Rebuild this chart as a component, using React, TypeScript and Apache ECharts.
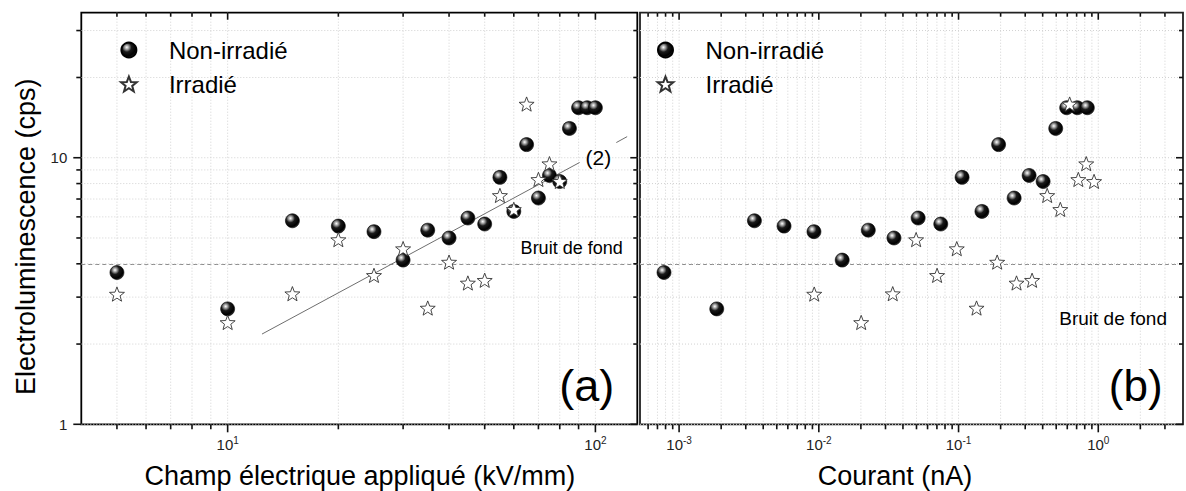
import React, { useEffect, useRef } from "react";
import * as echarts from "echarts";

// ---------- data ----------
// Electroluminescence (cps) of the non-irradiated sample, shared by both panels
const ballEL = [3.71, 2.71, 5.8, 5.54, 5.28, 4.13, 5.35, 5.0, 5.94, 5.64, 8.44, 6.29, 11.2, 7.06, 8.58, 8.14, 12.88, 15.4, 15.4, 15.4];
// applied field (kV/mm), non-irradiated
const ballField = [5, 10, 15, 20, 25, 30, 35, 40, 45, 50, 55, 60, 65, 70, 75, 80, 85, 90, 95, 100];
// current (nA), non-irradiated
const ballCurrent = [0.00078, 0.00186, 0.00346, 0.00564, 0.00923, 0.0147, 0.0226, 0.0345, 0.0514, 0.0746, 0.106, 0.147, 0.1935, 0.25, 0.32, 0.403, 0.496, 0.594, 0.708, 0.835];

// Electroluminescence (cps) of the irradiated sample
const starEL = [3.08, 2.41, 3.09, 4.93, 3.62, 4.56, 2.73, 4.06, 3.39, 3.47, 7.22, 6.4, 15.9, 8.29, 9.5, 8.15];
const starField = [5, 10, 15, 20, 25, 30, 35, 40, 45, 50, 55, 60, 65, 70, 75, 80];
const starCurrent = [0.00927, 0.0201, 0.0338, 0.0497, 0.0702, 0.0971, 0.1345, 0.189, 0.26, 0.336, 0.431, 0.535, 0.624, 0.72, 0.82, 0.933];

// fitted line (2), drawn in two pieces around its label
const fitAX = [12.4, 90.6];
const fitAY = [2.18, 9.6];
const fitBX = [114, 122];
const fitBY = [11.4, 12.0];

const noiseLevel = 4; // "Bruit de fond"

// axis ranges and ticks
const fieldRange = [4, 130];
const currentRange = [0.000525, 4.04];
const elRange = [1, 35];
const fieldMajor = [10, 100];
const fieldMinor = [5, 6, 7, 8, 9, 20, 30, 40, 50, 60, 70, 80, 90];
const currentMajor = [0.001, 0.01, 0.1, 1];
const currentMinor = [
  0.0006, 0.0007, 0.0008, 0.0009,
  0.002, 0.003, 0.004, 0.005, 0.006, 0.007, 0.008, 0.009,
  0.02, 0.03, 0.04, 0.05, 0.06, 0.07, 0.08, 0.09,
  0.2, 0.3, 0.4, 0.5, 0.6, 0.7, 0.8, 0.9,
  2, 3,
];
const elMajor = [1, 10];
const elMinor = [2, 3, 4, 5, 6, 7, 8, 9, 20, 30];

const seriesNames = ["Non-irradié", "Irradié"];

// ---------- styling helpers ----------
const FONT = '"Liberation Sans", Arial, Helvetica, sans-serif';
const TICK = "#111";
const TICK_W = 1.6;

function starPath(): string {
  const pts: string[] = [];
  for (let k = 0; k < 10; k++) {
    const a = -Math.PI / 2 + (k * Math.PI) / 5;
    const r = k % 2 === 0 ? 1 : 0.42;
    pts.push(`${(r * Math.cos(a)).toFixed(4)} ${(r * Math.sin(a)).toFixed(4)}`);
  }
  return "path://M" + pts.join(" L") + " Z";
}
const STAR = starPath();

const ballColor = {
  type: "radial",
  x: 0.36,
  y: 0.32,
  r: 0.7,
  colorStops: [
    { offset: 0, color: "#ffffff" },
    { offset: 0.2, color: "#a0a0a0" },
    { offset: 0.45, color: "#1a1a1a" },
    { offset: 0.85, color: "#000000" },
    { offset: 1, color: "#2a2a2a" },
  ],
};

const zip = (xs: number[], ys: number[]) => xs.map((x, i) => [x, ys[i]]);

function powLabel(v: number): string {
  const l = Math.log10(v);
  const e = Math.round(l);
  if (Math.abs(l - e) > 1e-6) return "";
  return `{b|10}{s|${e}}`;
}
function plainPowLabel(v: number): string {
  const l = Math.log10(v);
  const e = Math.round(l);
  if (Math.abs(l - e) > 1e-6) return "";
  return String(Math.round(v));
}

function logAxis(gridIndex: number, range: number[], label: any) {
  return {
    type: "log",
    logBase: 10,
    gridIndex,
    min: range[0],
    max: range[1],
    axisLine: { show: false, onZero: false },
    axisTick: { show: false },
    splitLine: { show: false },
    minorTick: { show: false },
    axisLabel: label,
  };
}

const xLabel = {
  show: true,
  formatter: powLabel,
  margin: 11,
  rich: {
    b: { fontSize: 15, color: "#222", fontFamily: FONT },
    s: { fontSize: 10, color: "#222", fontFamily: FONT, padding: [0, 0, 9, 0] },
  },
};
const yLabel = { show: true, formatter: plainPowLabel, fontSize: 15, color: "#222", margin: 14, fontFamily: FONT };

// dotted grid lines at every decade and sub-decade value
function xGridSeries(axisIdx: number, values: number[], yRef: number) {
  return {
    type: "custom",
    xAxisIndex: axisIdx,
    yAxisIndex: axisIdx,
    z: 1,
    silent: true,
    encode: { x: 0, y: 1 },
    data: values.map((v) => [v, yRef]),
    renderItem: (params: any, api: any) => {
      const cs = params.coordSys;
      const x = api.coord([api.value(0), api.value(1)])[0];
      return { type: "line", shape: { x1: x, y1: cs.y, x2: x, y2: cs.y + cs.height }, style: { stroke: "#d2d2d2", lineWidth: 1, lineDash: [1, 2] } };
    },
  };
}
function yGridSeries(axisIdx: number, values: number[], xRef: number) {
  return {
    type: "custom",
    xAxisIndex: axisIdx,
    yAxisIndex: axisIdx,
    z: 1,
    silent: true,
    encode: { x: 0, y: 1 },
    data: values.map((v) => [xRef, v]),
    renderItem: (params: any, api: any) => {
      const cs = params.coordSys;
      const y = api.coord([api.value(0), api.value(1)])[1];
      return { type: "line", shape: { x1: cs.x, y1: y, x2: cs.x + cs.width, y2: y }, style: { stroke: "#d2d2d2", lineWidth: 1, lineDash: [1, 2] } };
    },
  };
}

const noiseMarkLine = {
  silent: true,
  z: 1,
  symbol: ["none", "none"],
  label: { show: false },
  lineStyle: { color: "#8c8c8c", type: [4, 3], width: 1 },
  data: [{ yAxis: noiseLevel }],
};

function ballSeries(axisIdx: number, xs: number[]) {
  return {
    type: "scatter",
    name: seriesNames[0],
    xAxisIndex: axisIdx,
    yAxisIndex: axisIdx,
    z: 3,
    symbol: "circle",
    symbolSize: 14,
    itemStyle: { color: ballColor as any, borderColor: "#000", borderWidth: 0.6, opacity: 1 },
    data: zip(xs, ballEL),
    markLine: noiseMarkLine,
  };
}
function starSeries(axisIdx: number, xs: number[]) {
  return {
    type: "scatter",
    name: seriesNames[1],
    xAxisIndex: axisIdx,
    yAxisIndex: axisIdx,
    z: 4,
    symbol: STAR,
    symbolKeepAspect: true,
    symbolSize: 15,
    itemStyle: { color: "#ffffff", borderColor: "#333", borderWidth: 0.9, opacity: 1 },
    data: zip(xs, starEL),
  };
}

function fitSeries(xs: number[], ys: number[]) {
  return {
    type: "line",
    xAxisIndex: 0,
    yAxisIndex: 0,
    z: 2,
    silent: true,
    symbol: "none",
    lineStyle: { color: "#6e6e6e", width: 1 },
    data: zip(xs, ys),
  };
}

function legendAt(left: number) {
  return {
    left,
    top: 33,
    orient: "vertical",
    itemWidth: 70,
    itemHeight: 15,
    itemGap: 10,
    selectedMode: false,
    data: seriesNames,
    textStyle: { fontSize: 24, color: "#000", fontFamily: FONT },
  };
}

function textEl(text: string, x: number, y: number, size: number, align = "center", rotation = 0) {
  return {
    type: "text",
    x,
    y,
    rotation,
    silent: true,
    z: 10,
    style: { text, fontSize: size, fontFamily: FONT, fill: "#000", align, verticalAlign: "middle" },
  };
}

function tickLine(x1: number, y1: number, x2: number, y2: number) {
  return { type: "line", silent: true, z: 9, shape: { x1, y1, x2, y2 }, style: { stroke: TICK, lineWidth: TICK_W } };
}

const texts = [
  textEl("Electroluminescence (cps)", 25.5, 236.7, 27, "center", Math.PI / 2),
  textEl("Champ électrique appliqué (kV/mm)", 359.8, 476, 27),
  textEl("Courant (nA)", 895, 476, 27),
  textEl("Bruit de fond", 622.7, 248, 18, "right"),
  textEl("Bruit de fond", 1167, 318, 19, "right"),
  textEl("(2)", 598.3, 157.5, 21),
  textEl("(a)", 586.8, 385, 45),
  textEl("(b)", 1135.7, 385, 44),
];

export default function App() {
  const ref = useRef<HTMLDivElement>(null);
  useEffect(() => {
    if (!ref.current) return;
    const chart = echarts.init(ref.current, undefined, { renderer: "svg" });
    const option: any = {
      animation: false,
      backgroundColor: "#ffffff",
      textStyle: { fontFamily: FONT },
      grid: [
        { left: 81.3, top: 12.7, width: 556, height: 411.6, show: true, borderColor: "#000", borderWidth: 1.8, backgroundColor: "transparent" },
        { left: 640, top: 12.7, width: 545, height: 411.6, show: true, borderColor: "#222", borderWidth: 1.8, backgroundColor: "transparent" },
      ],
      xAxis: [logAxis(0, fieldRange, xLabel), logAxis(1, currentRange, xLabel)],
      yAxis: [logAxis(0, elRange, yLabel), logAxis(1, elRange, { show: false })],
      legend: [legendAt(115), legendAt(651.6)],
      series: [
        xGridSeries(0, [...fieldMajor, ...fieldMinor], elRange[0]),
        yGridSeries(0, [...elMajor, ...elMinor], fieldRange[0]),
        xGridSeries(1, [...currentMajor, ...currentMinor], elRange[0]),
        yGridSeries(1, [...elMajor, ...elMinor], currentRange[0]),
        fitSeries(fitAX, fitAY),
        fitSeries(fitBX, fitBY),
        ballSeries(0, ballField),
        starSeries(0, starField),
        ballSeries(1, ballCurrent),
        starSeries(1, starCurrent),
      ],
      graphic: texts,
    };
    chart.setOption(option);

    // tick marks, placed through the axes' own scales
    const ticks: any[] = [];
    const panels = [
      { idx: 0, xr: fieldRange, xMaj: fieldMajor, xMin: fieldMinor, leftTicks: true },
      { idx: 1, xr: currentRange, xMaj: currentMajor, xMin: currentMinor, leftTicks: false },
    ];
    for (const p of panels) {
      const finder: any = { xAxisIndex: p.idx, yAxisIndex: p.idx };
      const c0 = chart.convertToPixel(finder, [p.xr[0], elRange[0]]) as number[];
      const c1 = chart.convertToPixel(finder, [p.xr[1], elRange[1]]) as number[];
      const xl = c0[0], xr = c1[0], yb = c0[1], yt = c1[1];
      const addX = (vals: number[], major: boolean) => {
        for (const v of vals) {
          const x = (chart.convertToPixel(finder, [v, elRange[0]]) as number[])[0];
          ticks.push(tickLine(x, yb, x, yb + (major ? 8 : 5)));
          ticks.push(tickLine(x, yt, x, yt + (major ? 7 : 4)));
        }
      };
      const addY = (vals: number[], major: boolean) => {
        for (const v of vals) {
          const y = (chart.convertToPixel(finder, [p.xr[0], v]) as number[])[1];
          if (p.leftTicks) ticks.push(tickLine(xl, y, xl - (major ? 8 : 5), y));
          ticks.push(tickLine(xr, y, xr - (major ? 7 : 4), y));
        }
      };
      addX(p.xMaj, true);
      addX(p.xMin, false);
      addY(elMajor, true);
      addY(elMinor, false);
    }
    chart.setOption({ graphic: [...texts, ...ticks] });
    return () => chart.dispose();
  }, []);
  return <div ref={ref} style={{ position: "absolute", left: 0, top: 0, width: 1186, height: 491 }} />;
}
